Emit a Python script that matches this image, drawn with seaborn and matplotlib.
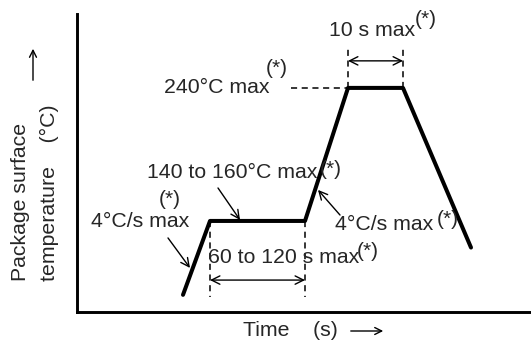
import matplotlib
matplotlib.use("Agg")
import numpy as np
import pandas as pd
import seaborn as sns
import matplotlib.pyplot as plt
from matplotlib.patches import FancyArrowPatch

# schematic reflow profile: time (s) vs package surface temperature (°C)
times = [106, 133, 228, 271, 326, 394]
temps = [100, 150, 150, 240, 240, 132]

peak_temp = 240
soak_temp = 150
soak_start, soak_end = 133, 228
peak_start, peak_end = 271, 326

sns.set_style("white")
plt.rcParams["font.family"] = ["Liberation Sans", "DejaVu Sans"]

FS = 15.3
SUP = 15

fig = plt.figure(figsize=(5.31, 3.45), dpi=100)
ax = fig.add_axes([77 / 531, 33 / 345, 454 / 531, 298 / 345])

df = pd.DataFrame({"time": times, "temp": temps})
sns.lineplot(data=df, x="time", y="temp", color="black", linewidth=2.9, ax=ax)

ax.set_xlim(0, 454)
ax.set_ylim(88.4, 290)
ax.set_xticks([])
ax.set_yticks([])
ax.set_xlabel("")
ax.set_ylabel("")
for s in ["top", "right"]:
    ax.spines[s].set_visible(False)
for s in ["left", "bottom"]:
    ax.spines[s].set_color("black")
    ax.spines[s].set_linewidth(2.1)

dash = dict(color="black", lw=1.1, linestyle=(0, (4, 3)))
# 240 °C guide and peak window
ax.plot([214, peak_start], [peak_temp, peak_temp], **dash)
ax.plot([peak_start, peak_start], [peak_temp, 268], **dash)
ax.plot([peak_end, peak_end], [peak_temp, 268], **dash)
# soak window
ax.plot([soak_start, soak_start], [soak_temp, 98.6], **dash)
ax.plot([soak_end, soak_end], [soak_temp, 98.6], **dash)

head = "head_length=0.6,head_width=0.3"
dbl = dict(arrowstyle="<->," + head, color="black", lw=1.0, shrinkA=0, shrinkB=0)
one = dict(arrowstyle="->," + head, color="black", lw=1.0, shrinkA=0, shrinkB=0)

ax.annotate("", xy=(peak_end, 258.3), xytext=(peak_start, 258.3), arrowprops=dbl)
ax.annotate("", xy=(soak_end, 110), xytext=(soak_start, 110), arrowprops=dbl)

# texts
ax.text(193, peak_temp, "240°C max", fontsize=FS, ha="right", va="center")
ax.text(189, 252.9, "(*)", fontsize=SUP, ha="left", va="center")

ax.text(295, 278.6, "10 s max", fontsize=FS, ha="center", va="center")
ax.text(338, 286, "(*)", fontsize=SUP, ha="left", va="center")

ax.text(131, 125, "60 to 120 s max", fontsize=FS, ha="left", va="center")
ax.text(280, 129, "(*)", fontsize=SUP, ha="left", va="center")

ax.text(70, 183, "140 to 160°C max", fontsize=FS, ha="left", va="center")
ax.text(243, 184.5, "(*)", fontsize=SUP, ha="left", va="center")
ax.annotate("", xy=(163, 150.7), xytext=(141, 172.3), arrowprops=one)

ax.text(93, 164.2, "(*)", fontsize=SUP, ha="center", va="center")
ax.text(63, 149.3, "4°C/s max", fontsize=FS, ha="center", va="center")
ax.annotate("", xy=(113, 118.2), xytext=(91, 138.5), arrowprops=one)

ax.text(258, 147.3, "4°C/s max", fontsize=FS, ha="left", va="center")
ax.text(360, 150.7, "(*)", fontsize=SUP, ha="left", va="center")
ax.annotate("", xy=(241, 171), xytext=(263, 154), arrowprops=one)

# axis labels
fig.text(21 / 531, 1 - 281 / 345, "Package surface", rotation=90,
         fontsize=FS, ha="center", va="bottom")
fig.text(49 / 531, 1 - 281 / 345, "temperature    (°C)", rotation=90,
         fontsize=FS, ha="center", va="bottom")
fig.add_artist(FancyArrowPatch(
    (33 / 531, 1 - 83 / 345), (33 / 531, 1 - 46 / 345),
    transform=fig.transFigure, arrowstyle="->,head_length=5,head_width=2.5",
    color="black", lw=1.0))

fig.text(290 / 531, 1 - 331 / 345, "Time    (s)", fontsize=FS,
         ha="center", va="center")
fig.add_artist(FancyArrowPatch(
    (348 / 531, 1 - 331 / 345), (386 / 531, 1 - 331 / 345),
    transform=fig.transFigure, arrowstyle="->,head_length=5,head_width=2.5",
    color="black", lw=1.0))

fig.savefig("out.png", dpi=100)
